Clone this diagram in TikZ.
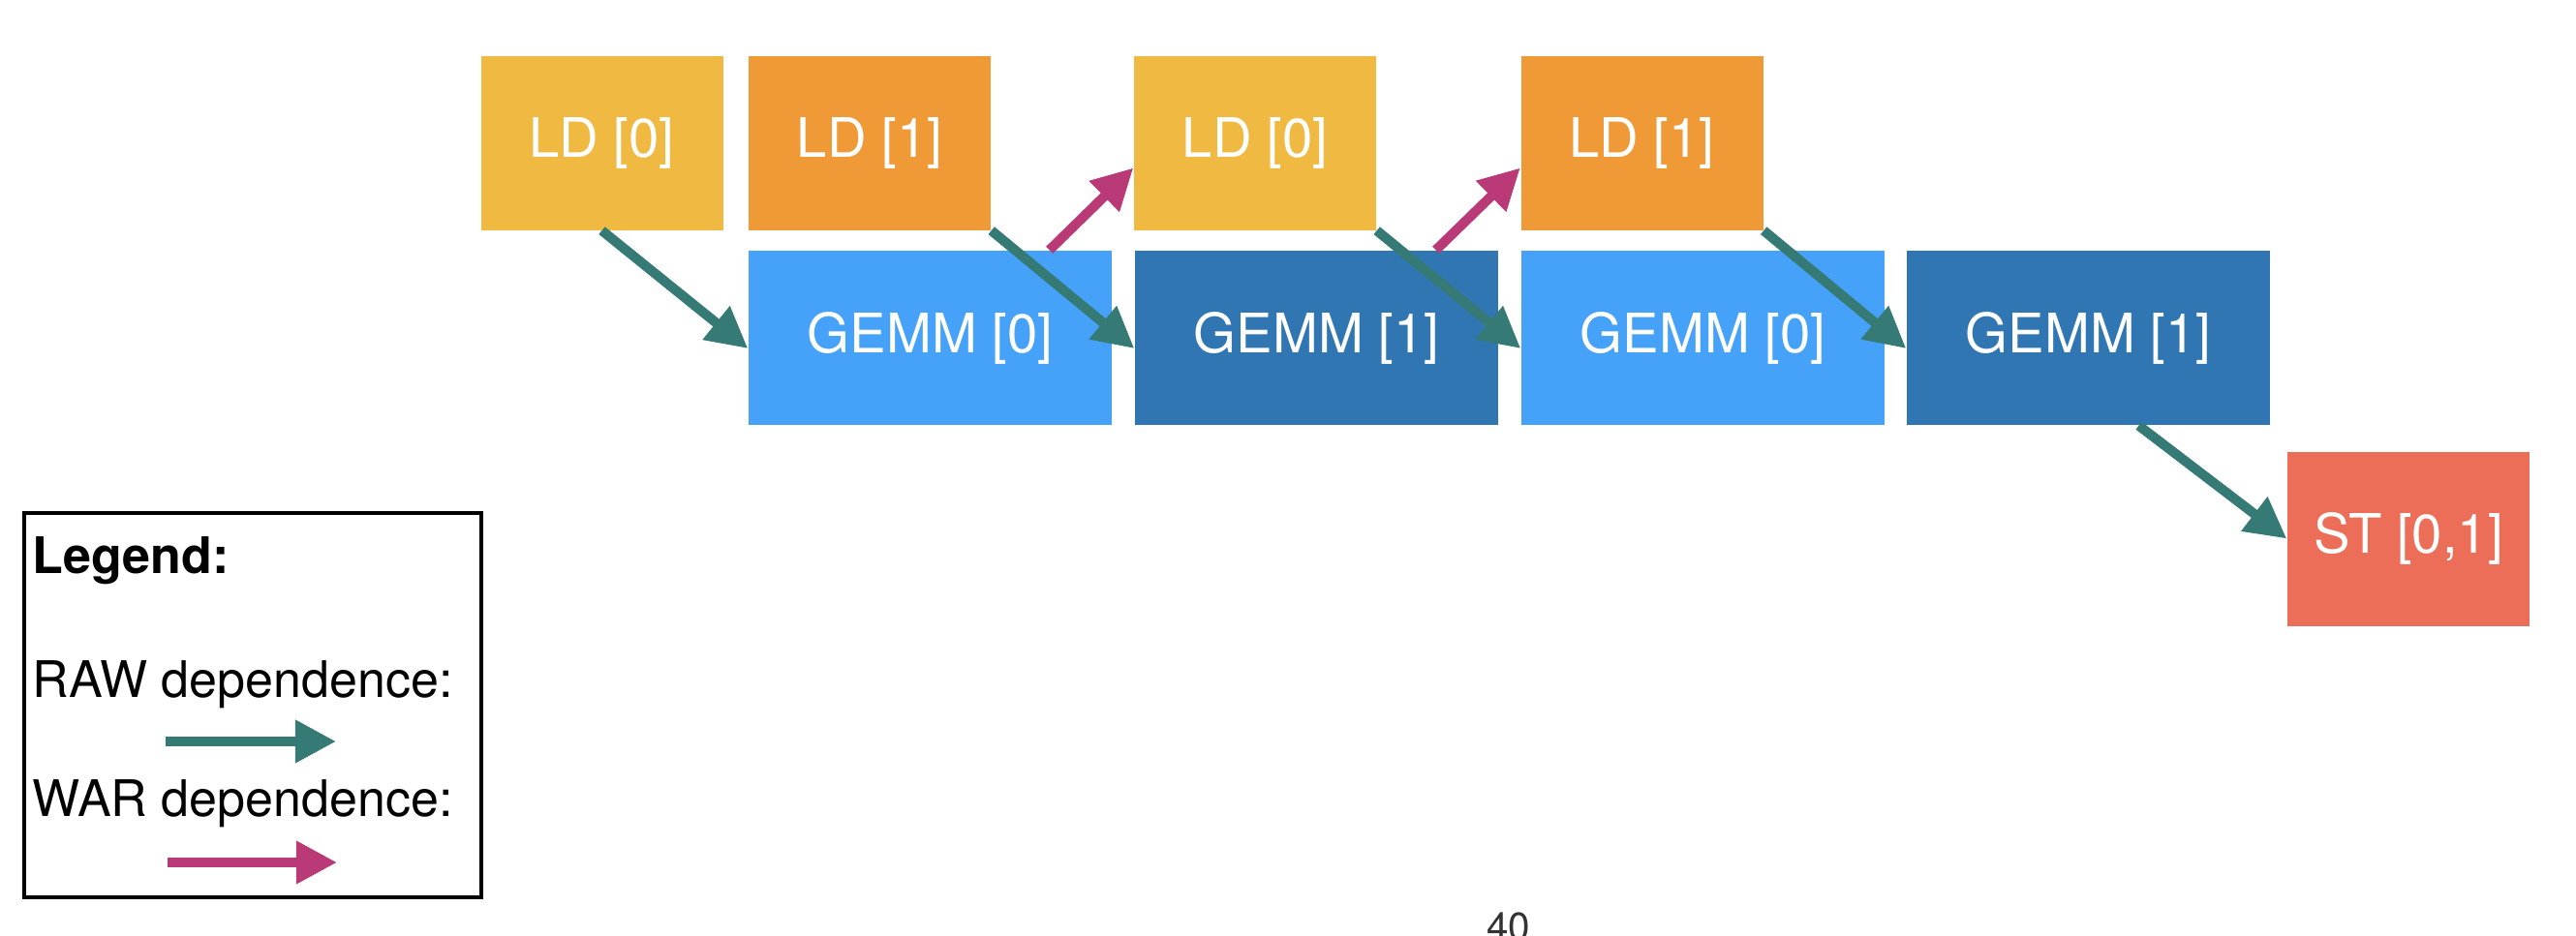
\documentclass[tikz,border=0pt]{standalone}
\usepackage{fontspec}
\setmainfont{TeX Gyre Heros}
\usetikzlibrary{arrows.meta}
\definecolor{ldzero}{RGB}{240,186,66}
\definecolor{ldone}{RGB}{240,153,55}
\definecolor{gemmzero}{RGB}{69,162,248}
\definecolor{gemmone}{RGB}{48,118,179}
\definecolor{stcol}{RGB}{237,110,88}
\definecolor{raw}{RGB}{53,122,116}
\definecolor{war}{RGB}{185,58,119}
\begin{document}
\begin{tikzpicture}[
	op/.style={fill=#1,text=white,minimum height=1.8cm,inner sep=0pt,font=\fontsize{16}{19}\selectfont},
	ld/.style={op=#1,minimum width=2.5cm},
	gemm/.style={op=#1,minimum width=3.75cm},
	legtext/.style={anchor=base west,inner sep=0pt,font=\fontsize{14.8}{17}\selectfont},
	dep/.style={line width=2.85pt,draw=#1,-{Triangle[length=12pt,width=12pt,fill=#1]}}]
	\useasboundingbox (0,0) rectangle (26.6,-9.67);
	\node[ld=ldzero] (A) at (6.215,-1.475) {LD [0]};
	\node[ld=ldone] (B) at (8.98,-1.475) {LD [1]};
	\node[ld=ldzero] (C) at (12.96,-1.475) {LD [0]};
	\node[ld=ldone] (D) at (16.955,-1.475) {LD [1]};
	\node[gemm=gemmzero] (E) at (9.605,-3.49) {GEMM [0]};
	\node[gemm=gemmone] (F) at (13.595,-3.49) {GEMM [1]};
	\node[gemm=gemmzero] (G) at (17.585,-3.49) {GEMM [0]};
	\node[gemm=gemmone] (H) at (21.565,-3.49) {GEMM [1]};
	\node[ld=stcol] (I) at (24.87,-5.565) {ST [0,1]};
	
	\draw[dep=raw] (A.south) -- ([yshift=-1.1mm]E.west);
	\draw[dep=raw] (B.south east) -- ([yshift=-1.1mm]F.west);
	\draw[dep=raw] (C.south east) -- ([yshift=-1.1mm]G.west);
	\draw[dep=raw] (D.south east) -- ([yshift=-1.1mm]H.west);
	\draw[dep=raw] ([xshift=5.2mm]H.south) -- (I.west);
	\draw[dep=war] ([xshift=-6.5mm]E.north east) -- ([yshift=-2.6mm]C.west);
	\draw[dep=war] ([xshift=-6.5mm]F.north east) -- ([yshift=-2.6mm]D.west);
	
	% legend
	\node[draw,line width=0.9pt,minimum width=4.72cm,minimum height=3.97cm] (L) at (2.61,-7.285) {};
	\node[legtext,font=\fontsize{14.8}{17}\selectfont\bfseries] (M) at (0.33,-5.92) {Legend:};
	\node[legtext] (N) at (0.33,-7.2) {RAW dependence:};
	\node[legtext] (O) at (0.33,-8.43) {WAR dependence:};
	\coordinate (P) at (1.71,-7.66);
	\coordinate (Q) at (3.47,-7.66);
	\coordinate (R) at (1.73,-8.91);
	\coordinate (S) at (3.48,-8.91);
	\draw[dep=raw] (P) -- (Q);
	\draw[dep=war] (R) -- (S);
	
	\node[anchor=north,inner sep=0pt,text=black!80,font=\fontsize{11.5}{14}\selectfont] (Z) at (15.575,-9.42) {40};
\end{tikzpicture}
\end{document}
